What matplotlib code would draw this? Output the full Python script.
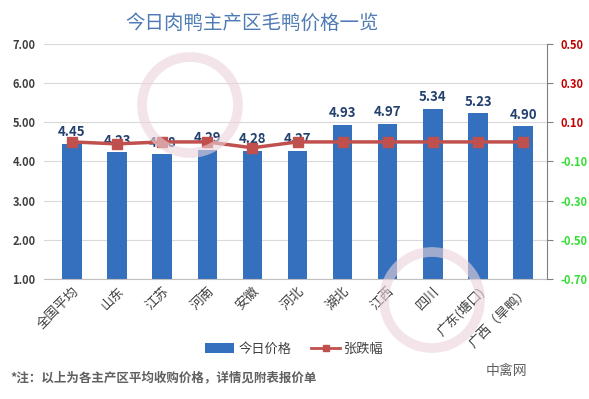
import matplotlib
matplotlib.use("Agg")
import matplotlib.pyplot as plt
from matplotlib.lines import Line2D
from matplotlib.patches import Patch, Ellipse

plt.rcParams['font.family'] = ['Noto Sans CJK SC', 'DejaVu Sans']

categories = ['全国平均', '山东', '江苏', '河南', '安徽', '河北', '湖北', '江西', '四川', '广东(塘口)', '广西（旱鸭）']
prices = [4.45, 4.23, 4.18, 4.29, 4.28, 4.27, 4.93, 4.97, 5.34, 5.23, 4.90]
changes = [0.00, -0.01, 0.00, 0.00, -0.03, 0.00, 0.00, 0.00, 0.00, 0.00, 0.00]
left_ticks = [1, 2, 3, 4, 5, 6, 7]
right_ticks = [-0.7, -0.5, -0.3, -0.1, 0.1, 0.3, 0.5]

W, H = 589, 399
fig = plt.figure(figsize=(5.89, 3.99), dpi=100)

# faint watermark rings
for (cx, cy, r) in [(190, 105, 48), (432, 300, 48)]:
    fig.patches.append(Ellipse((cx / W, 1 - cy / H), 2 * r / W, 2 * r / H, transform=fig.transFigure,
                               facecolor='none', edgecolor='#EAD3DA', linewidth=7, alpha=0.6, zorder=0))

ax = fig.add_axes([0.0747, 0.3008, 0.854, 0.5889])
ax.patch.set_alpha(0)
x = list(range(len(categories)))

ax.bar(x, [p - 1 for p in prices], bottom=1, width=0.43, color='#3470BD', zorder=2)
for xi, p in zip(x, prices):
    ax.text(xi, p + 0.12, f'{p:.2f}', ha='center', va='bottom', fontsize=9.5,
            fontweight='bold', color='#23406E', zorder=5)

ax.set_ylim(1, 7)
ax.set_yticks(left_ticks)
ax.set_yticklabels([f'{v:.2f}' for v in left_ticks], fontsize=8, fontweight='bold', color='#404040')
ax.set_xlim(-0.62, 10.53)
ax.set_xticks(x)
ax.set_xticklabels(categories, rotation=45, ha='right', rotation_mode='anchor', fontsize=9.5, color='#404040')
ax.tick_params(axis='x', length=0, pad=4)
ax.tick_params(axis='y', length=0, pad=6)
ax.grid(axis='y', color='#D9D9D9', linewidth=0.8, zorder=0)
for s in ['left', 'top', 'right']:
    ax.spines[s].set_visible(False)
ax.spines['bottom'].set_color('#BFBFBF')

ax2 = ax.twinx()
ax2.plot(x, changes, color='#C0504D', linewidth=2.5, marker='s', markersize=7,
         markerfacecolor='#C0504D', markeredgecolor='#C0504D', zorder=4)
ax2.set_ylim(-0.7, 0.5)
ax2.set_yticks(right_ticks)
ax2.set_yticklabels([f'{v:.2f}' for v in right_ticks], fontsize=8, fontweight='bold')
for lbl, v in zip(ax2.get_yticklabels(), right_ticks):
    lbl.set_color('#C00000' if v > 0 else '#33DD33')
ax2.tick_params(axis='y', length=4, color='#808080', pad=6)
for s in ['left', 'top', 'bottom']:
    ax2.spines[s].set_visible(False)
ax2.spines['right'].set_color('#808080')

fig.text(0.428, 0.942, '今日肉鸭主产区毛鸭价格一览', ha='center', va='center', fontsize=14, color='#4F7BB5')

handles = [Patch(facecolor='#3470BD', label='今日价格'),
           Line2D([0], [0], color='#C0504D', linewidth=2, marker='s', markersize=5, label='张跌幅')]
fig.legend(handles=handles, loc='center', bbox_to_anchor=(0.5, 0.125), ncol=2, frameon=False,
           fontsize=9.5, handlelength=2.2, columnspacing=1.5, handletextpad=0.3,
           labelcolor='#404040')

fig.text(0.017, 0.052, '*注：以上为各主产区平均收购价格，详情见附表报价单', fontsize=9,
         color='#606060', fontweight='bold', va='center')
fig.text(0.86, 0.07, '中禽网', fontsize=10, color='#606060', va='center', ha='center')

fig.savefig('out.png', dpi=100)
